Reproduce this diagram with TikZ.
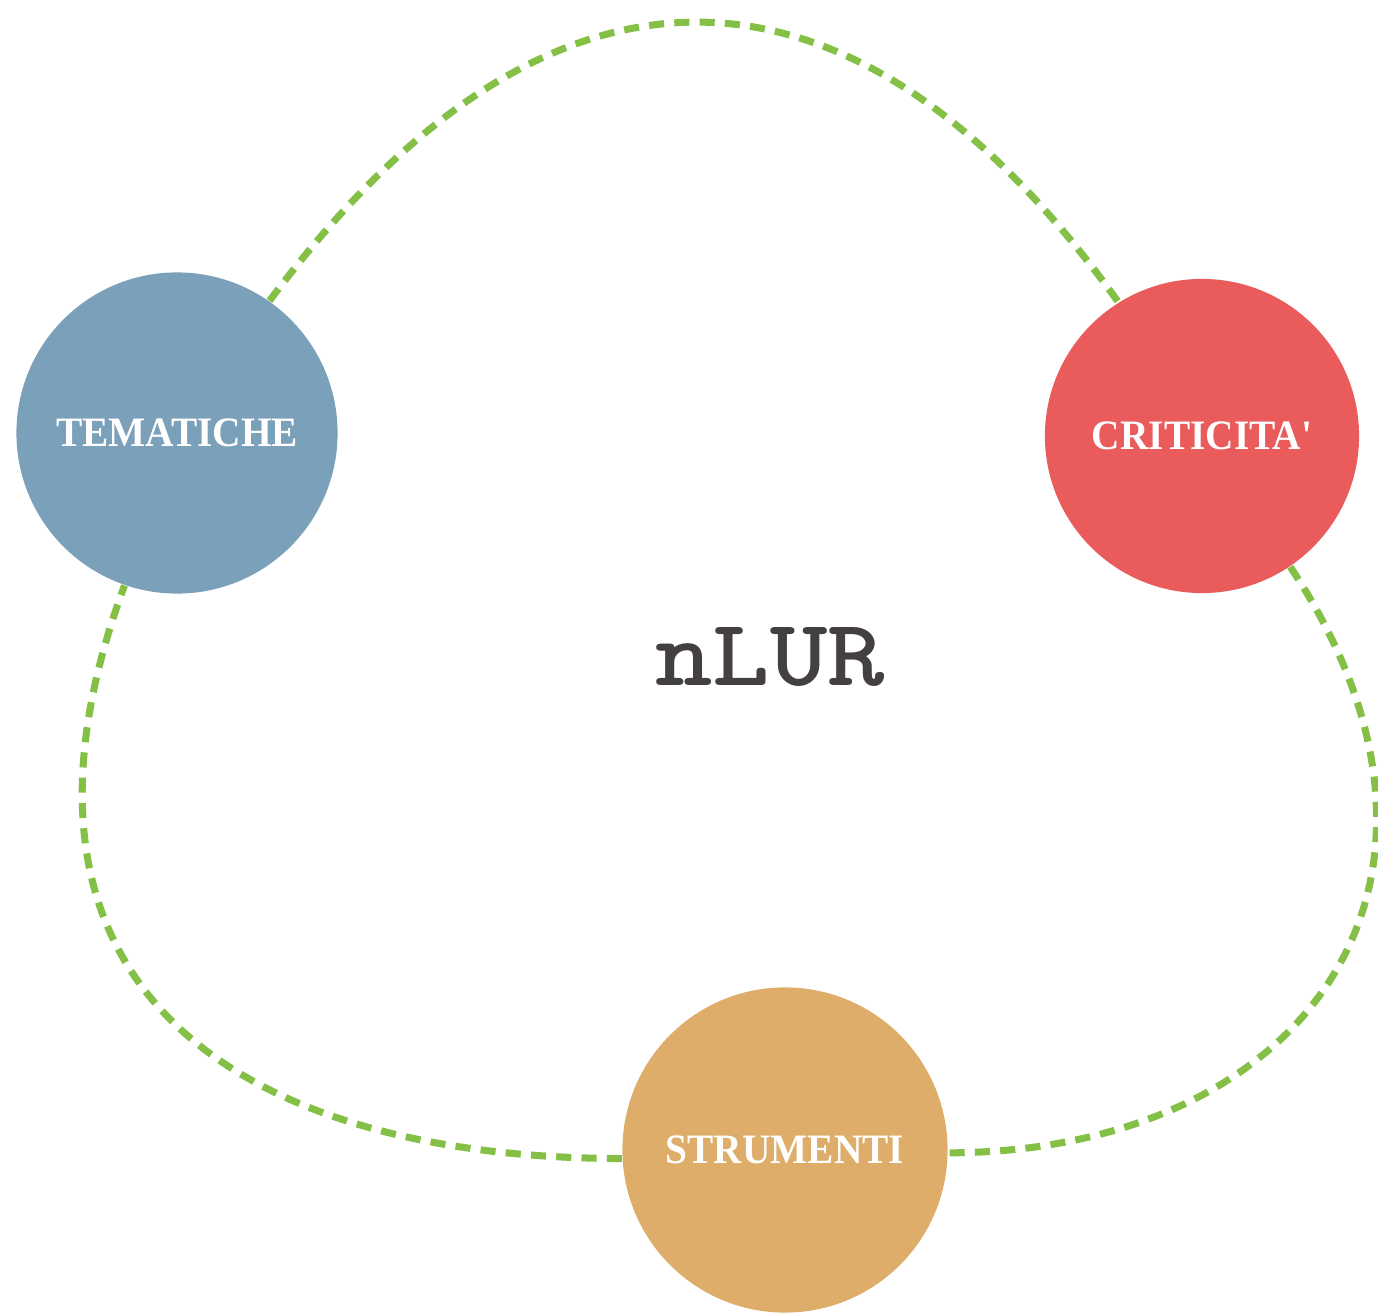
\documentclass[tikz,border=0pt]{standalone}
\usepackage{fontspec}
\usepackage{graphicx}
\usetikzlibrary{backgrounds}
\newfontfamily\bubblefont{Liberation Serif}
\definecolor{temablue}{RGB}{123,160,186}
\definecolor{critred}{RGB}{234,92,92}
\definecolor{strorange}{RGB}{221,173,105}
\definecolor{loopgreen}{RGB}{132,191,70}
\definecolor{nlurgray}{RGB}{68,64,64}
\newcommand{\bubbletext}[1]{\scalebox{0.94}[1]{#1}}

\begin{document}
\begin{tikzpicture}[x=0.01cm,y=-0.01cm,
    bubble/.style={circle,inner sep=0pt,text=white,font=\bubblefont\bfseries\fontsize{11.9}{13}\selectfont},
    ring/.style={loopgreen,line width=2pt,dash pattern=on 4.3pt off 2.9pt}]
  \useasboundingbox (0,0) rectangle (1378,1316);
  \node[bubble,fill=temablue,minimum size=3.21cm] (tem) at (177,433) {\bubbletext{TEMATICHE}};
  \node[bubble,fill=critred,minimum size=3.14cm] (cri) at (1202,436) {\bubbletext{CRITICITA'}};
  \node[bubble,fill=strorange,minimum size=3.25cm] (str) at (785,1150) {\bubbletext{STRUMENTI}};
  \node[text=nlurgray,font=\ttfamily\bfseries\fontsize{27}{30}\selectfont] (nlur) at (770,657) {\scalebox{1.15}[1]{nLUR}};

  \begin{scope}[on background layer]
    \draw[ring] (tem.55) .. controls (545,-70) and (850,-72) .. (cri.122);
    \draw[ring] (cri.-56) .. controls (1500,882) and (1305,1152) .. (str.-1);
    \draw[ring] (str.183) .. controls (237,1158) and (-24,987) .. (tem.-109);
  \end{scope}
\end{tikzpicture}
\end{document}
